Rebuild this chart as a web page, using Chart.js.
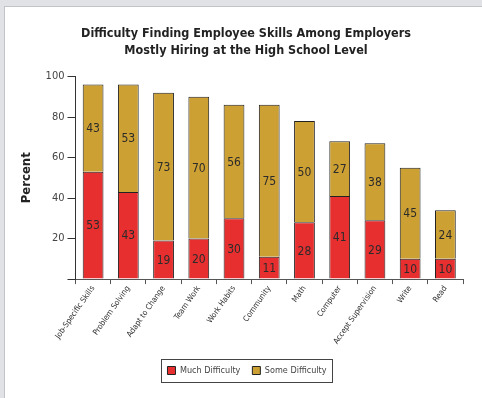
<!DOCTYPE html>
<html>
<head>
<meta charset="utf-8">
<script src="https://cdn.jsdelivr.net/npm/chart.js@4.4.0/dist/chart.umd.min.js"></script>
<style>
  html, body { margin: 0; padding: 0; background: #e1e2e6; width: 482px; height: 398px; overflow: hidden; }
  #panel { position: absolute; left: 4px; top: 6px; width: 478px; height: 392px; background: #fff;
           border-left: 1px solid #c2c3c7; border-top: 1px solid #c2c3c7; }
  canvas { display: block; }
</style>
</head>
<body>
<div id="panel"><canvas id="c" width="478" height="392"></canvas></div>
<script>
const categories = ["Job-Specific Skills", "Problem Solving", "Adapt to Change", "Team Work", "Work Habits",
                    "Community", "Math", "Computer", "Accept Supervision", "Write", "Read"];
const muchDifficulty = [53, 43, 19, 20, 30, 11, 28, 41, 29, 10, 10];
const someDifficulty = [43, 53, 73, 70, 56, 75, 50, 27, 38, 45, 24];
const yTicks = [0, 20, 40, 60, 80, 100];

const NARROW = "'DejaVu Sans Condensed', 'Liberation Sans Narrow', sans-serif";

const dataLabels = {
  id: 'dataLabels',
  afterDatasetsDraw(chart) {
    const ctx = chart.ctx;
    ctx.save();
    ctx.font = "12px " + NARROW;
    ctx.fillStyle = '#2b2b2b';
    ctx.textAlign = 'center';
    ctx.textBaseline = 'middle';
    chart.data.datasets.forEach((ds, di) => {
      const meta = chart.getDatasetMeta(di);
      meta.data.forEach((el, i) => {
        const v = ds.data[i];
        ctx.fillText(String(v), el.x, (el.y + el.base) / 2 + 1);
      });
    });
    ctx.restore();
  }
};

// shift the centred title and legend slightly to the right, as in the reference
const centreShift = {
  id: 'centreShift',
  afterLayout(chart) {
    const t = chart.titleBlock;
    if (t) { t.left += 7; t.right += 7; }
    const l = chart.legend;
    if (l) { l.left += 8; l.right += 8; }
  }
};

const legendBox = {
  id: 'legendBox',
  afterDraw(chart) {
    const boxes = chart.legend && chart.legend.legendHitBoxes;
    if (!boxes || !boxes.length) return;
    let l = Infinity, r = -Infinity, t = Infinity, b = -Infinity;
    boxes.forEach(h => { l = Math.min(l, h.left); r = Math.max(r, h.left + h.width);
                         t = Math.min(t, h.top); b = Math.max(b, h.top + h.height); });
    const ctx = chart.ctx;
    ctx.save();
    ctx.strokeStyle = '#444';
    ctx.lineWidth = 1;
    ctx.strokeRect(Math.round(l - 6) + 0.5, Math.round(t - 7) + 0.5, Math.round(r - l + 12), Math.round(b - t + 14));
    ctx.restore();
  }
};

new Chart(document.getElementById('c'), {
  type: 'bar',
  data: {
    labels: categories,
    datasets: [
      { label: 'Much Difficulty', data: muchDifficulty, backgroundColor: '#e82f30', borderColor: '#222',
        borderWidth: 1, barPercentage: 0.59, categoryPercentage: 1 },
      { label: 'Some Difficulty', data: someDifficulty, backgroundColor: '#cda033', borderColor: '#222',
        borderWidth: 1, barPercentage: 0.59, categoryPercentage: 1 }
    ]
  },
  options: {
    responsive: false,
    animation: false,
    devicePixelRatio: 1,
    layout: { padding: { left: 10, right: 20, top: 19, bottom: 14 } },
    plugins: {
      title: {
        display: true,
        text: ['Difficulty Finding Employee Skills Among Employers', 'Mostly Hiring at the High School Level'],
        color: '#222',
        font: { family: NARROW, size: 12.5, weight: 'bold', lineHeight: 1.3 },
        padding: { top: 0, bottom: 18 }
      },
      legend: {
        position: 'bottom',
        labels: {
          boxWidth: 8, boxHeight: 8, color: '#444',
          font: { family: NARROW, size: 9 },
          padding: 12
        }
      },
      tooltip: { enabled: false }
    },
    scales: {
      x: {
        stacked: true,
        afterFit(scale) { scale.height += 8; },
        grid: { display: true, drawOnChartArea: false, drawTicks: true, tickLength: 5, color: '#555', offset: true },
        border: { display: true, color: '#555' },
        ticks: {
          color: '#333', maxRotation: 55, minRotation: 55, autoSkip: false, padding: 0,
          font: { family: NARROW, size: 8 }
        }
      },
      y: {
        stacked: true,
        min: 0, max: 100,
        afterBuildTicks(scale) { scale.ticks = yTicks.map(v => ({ value: v })); },
        grid: { display: true, drawOnChartArea: false, drawTicks: true, tickLength: 8, color: '#333' },
        border: { display: true, color: '#333' },
        ticks: {
          color: '#444', padding: 3,
          font: { family: NARROW, size: 11 },
          callback: v => (v === 0 ? '' : String(v))
        },
        title: {
          display: true, text: 'Percent', color: '#222',
          font: { family: NARROW, size: 13, weight: 'bold' }, padding: { bottom: 8 }
        }
      }
    }
  },
  plugins: [centreShift, dataLabels, legendBox]
});
</script>
</body>
</html>
